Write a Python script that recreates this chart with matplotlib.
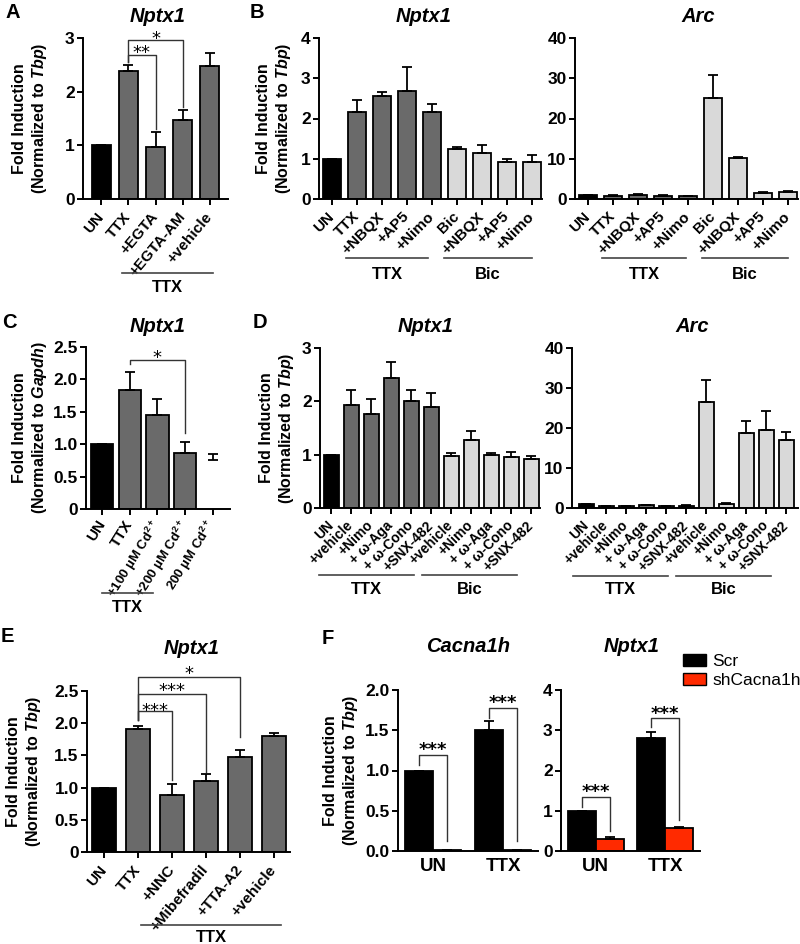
import matplotlib
matplotlib.use("Agg")
import matplotlib.pyplot as plt
from matplotlib.patches import Patch
import numpy as np

plt.rcParams['font.family'] = ['Liberation Sans', 'DejaVu Sans']
plt.rcParams['font.weight'] = 'bold'
plt.rcParams['mathtext.fontset'] = 'custom'
plt.rcParams['mathtext.rm'] = 'Liberation Sans:bold'
plt.rcParams['mathtext.it'] = 'Liberation Sans:italic:bold'
plt.rcParams['mathtext.bf'] = 'Liberation Sans:bold'

DARK = '#6a6a6a'
LIGHT = '#d9d9d9'
RED = '#ff2a00'

# ---- data ----
# A
a_labels = ["UN", "TTX", "+EGTA", "+EGTA-AM", "+vehicle"]
a_vals = [1.0, 2.38, 0.96, 1.48, 2.47]
a_err = [0.0, 0.11, 0.28, 0.18, 0.25]

# B
b_labels = ["UN", "TTX", "+NBQX", "+AP5", "+Nimo", "Bic", "+NBQX", "+AP5", "+Nimo"]
b_nptx1 = [1.0, 2.17, 2.56, 2.69, 2.17, 1.24, 1.15, 0.91, 0.91]
b_nptx1_err = [0.0, 0.29, 0.10, 0.59, 0.18, 0.04, 0.19, 0.08, 0.19]
b_arc = [1.0, 0.8, 1.1, 0.8, 0.7, 25.2, 10.1, 1.5, 1.7]
b_arc_err = [0.1, 0.1, 0.15, 0.1, 0.1, 5.6, 0.35, 0.3, 0.25]

# C
c_labels = ["UN", "TTX", "+100 µM Cd$^{2+}$", "+200 µM Cd$^{2+}$", "200 µM Cd$^{2+}$"]
c_vals = [1.0, 1.84, 1.45, 0.86, 0.76]
c_err = [0.0, 0.27, 0.25, 0.17, 0.09]

# D
d_labels = ["UN", "+vehicle", "+Nimo", "+ ω-Aga", "+ ω-Cono", "+SNX-482",
            "+vehicle", "+Nimo", "+ ω-Aga", "+ ω-Cono", "+SNX-482"]
d_nptx1 = [1.0, 1.94, 1.77, 2.44, 2.01, 1.89, 0.97, 1.28, 1.0, 0.96, 0.92]
d_nptx1_err = [0.0, 0.27, 0.28, 0.29, 0.21, 0.27, 0.07, 0.16, 0.04, 0.09, 0.05]
d_arc = [1.0, 0.5, 0.4, 0.7, 0.4, 0.6, 26.5, 1.0, 18.8, 19.4, 17.1]
d_arc_err = [0.0, 0.1, 0.1, 0.1, 0.1, 0.1, 5.4, 0.2, 2.9, 4.8, 2.0]

# E
e_labels = ["UN", "TTX", "+NNC", "+Mibefradil", "+TTA-A2", "+vehicle"]
e_vals = [1.0, 1.91, 0.89, 1.11, 1.48, 1.80]
e_err = [0.0, 0.05, 0.17, 0.10, 0.10, 0.05]

# F
f_groups = ["UN", "TTX"]
f_cacna_scr = [1.0, 1.50]
f_cacna_scr_err = [0.0, 0.11]
f_cacna_sh = [0.01, 0.01]
f_cacna_sh_err = [0.005, 0.005]
f_nptx_scr = [1.0, 2.81]
f_nptx_scr_err = [0.0, 0.15]
f_nptx_sh = [0.30, 0.56]
f_nptx_sh_err = [0.04, 0.04]

fig = plt.figure(figsize=(8, 9.44), dpi=100)


def rect(x0, x1, y0, y1):
    return [x0 / 800, 1 - y1 / 944, (x1 - x0) / 800, (y1 - y0) / 944]


def style(ax, ylim, yticks, yticklabels, ylab, labx):
    ax.spines['top'].set_visible(False)
    ax.spines['right'].set_visible(False)
    for s in ['left', 'bottom']:
        ax.spines[s].set_linewidth(1.4)
    ax.set_ylim(*ylim)
    ax.set_yticks(yticks)
    ax.set_yticklabels(yticklabels)
    ax.tick_params(direction='out', length=4, width=1.4)
    ax.tick_params(axis='y', labelsize=12.5, pad=2)
    if ylab:
        ax.set_ylabel(ylab, fontsize=11.5, fontweight='bold', linespacing=1.2)
        ax.yaxis.set_label_coords(labx, 0.5)


def bars(ax, vals, errs, colors, width, labels, rot, lsize, pad=7):
    x = np.arange(len(vals))
    ax.bar(x, vals, width, color=colors, edgecolor='black', linewidth=1.3, zorder=2)
    ax.errorbar(x, vals, yerr=[np.zeros(len(vals)), errs], fmt='none', ecolor='black',
                elinewidth=1.3, capsize=3.5, capthick=1.3, zorder=3)
    ax.set_xticks(x)
    ax.set_xticklabels(labels, rotation=rot, ha='right', va='center',
                       rotation_mode='anchor', fontsize=lsize)
    ax.tick_params(axis='x', pad=pad)


def group(ax, x0, x1, yline, ytext, text):
    tr = ax.get_xaxis_transform()
    ax.plot([x0, x1], [yline, yline], color='#444444', lw=1.2, transform=tr, clip_on=False)
    ax.text((x0 + x1) / 2, ytext, text, transform=tr, ha='center', va='center',
            fontsize=12, fontweight='bold')


def bracket(ax, x1, x2, y, e1, e2, stars, ys, weight='normal'):
    ax.plot([x1, x1, x2, x2], [e1, y, y, e2], color='#333333', lw=1.0, clip_on=False)
    ax.annotate(stars, xy=((x1 + x2) / 2, ys), xytext=(0, -7.5), textcoords='offset points',
                ha='center', va='baseline', fontsize=13, fontweight=weight,
                family='DejaVu Sans', annotation_clip=False)


ylab_tbp = "Fold Induction\n(Normalized to $\\it{Tbp}$)"

# ---- A ----
ax = fig.add_axes(rect(83, 228, 38, 199))
bars(ax, a_vals, a_err, ['black'] + [DARK] * 4, 0.7, a_labels, 50, 11)
ax.set_xlim(-0.67, 4.67)
style(ax, (0, 3), [0, 1, 2, 3], ['0', '1', '2', '3'], ylab_tbp, -0.234)
bracket(ax, 1, 2, 2.68, 2.55, 1.3, '**', 2.83)
bracket(ax, 1, 3, 2.96, 2.55, 1.72, '*', 3.08)
group(ax, 0.78, 4.1, -0.46, -0.547, 'TTX')

# ---- B ----
b_colors = ['black'] + [DARK] * 4 + [LIGHT] * 4
ax = fig.add_axes(rect(319, 542, 38, 199))
bars(ax, b_nptx1, b_nptx1_err, b_colors, 0.7, b_labels, 45, 11)
ax.set_xlim(-0.52, 8.4)
style(ax, (0, 4), [0, 1, 2, 3, 4], ['0', '1', '2', '3', '4'], ylab_tbp, -0.117)
group(ax, 0.56, 3.84, -0.366, -0.466, 'TTX')
group(ax, 4.48, 8.0, -0.366, -0.466, 'Bic')

ax = fig.add_axes(rect(575, 798, 38, 199))
bars(ax, b_arc, b_arc_err, b_colors, 0.7, b_labels, 45, 11)
ax.set_xlim(-0.52, 8.4)
style(ax, (0, 40), [0, 10, 20, 30, 40], ['0', '10', '20', '30', '40'], None, 0)
group(ax, 0.56, 3.92, -0.366, -0.466, 'TTX')
group(ax, 4.56, 8.0, -0.366, -0.466, 'Bic')

# ---- C ----
ax = fig.add_axes(rect(86, 230, 347, 509))
bars(ax, c_vals, c_err, ['black'] + [DARK] * 3 + ['none'], 0.8, c_labels, 58, 11, pad=5)
ax.patches[-1].set_edgecolor('none')
ax.set_xlim(-0.58, 4.62)
style(ax, (0, 2.5), [0, 0.5, 1.0, 1.5, 2.0, 2.5], ['0', '0.5', '1.0', '1.5', '2.0', '2.5'],
      "Fold Induction\n(Normalized to $\\it{Gapdh}$)", -0.257)
for lab in ax.get_xticklabels()[2:]:
    lab.set_fontsize(9.5)
bracket(ax, 1, 3, 2.30, 2.23, 1.18, '*', 2.41)
group(ax, 0.0, 1.84, -0.52, -0.605, 'TTX')

# ---- D ----
d_colors = ['black'] + [DARK] * 5 + [LIGHT] * 5
ax = fig.add_axes(rect(320, 540, 348, 508))
bars(ax, d_nptx1, d_nptx1_err, d_colors, 0.75, d_labels, 45, 10)
ax.set_xlim(-0.55, 10.45)
style(ax, (0, 3), [0, 1, 2, 3], ['0', '1', '2', '3'], ylab_tbp, -0.11)
group(ax, -0.6, 4.15, -0.419, -0.51, 'TTX')
group(ax, 4.55, 9.3, -0.419, -0.51, 'Bic')

ax = fig.add_axes(rect(572, 798, 348, 508))
bars(ax, d_arc, d_arc_err, d_colors, 0.75, d_labels, 45, 10)
ax.set_xlim(-0.7, 10.6)
style(ax, (0, 40), [0, 10, 20, 30, 40], ['0', '10', '20', '30', '40'], None, 0)
group(ax, -0.65, 4.1, -0.425, -0.51, 'TTX')
group(ax, 4.5, 9.25, -0.425, -0.51, 'Bic')

# ---- E ----
ax = fig.add_axes(rect(87, 290, 691, 852))
bars(ax, e_vals, e_err, ['black'] + [DARK] * 5, 0.68, e_labels, 50, 11)
ax.set_xlim(-0.5, 5.47)
style(ax, (0, 2.5), [0, 0.5, 1.0, 1.5, 2.0, 2.5], ['0', '0.5', '1.0', '1.5', '2.0', '2.5'],
      ylab_tbp, -0.217)
bracket(ax, 1, 2, 2.19, 2.05, 1.12, '***', 2.28)
bracket(ax, 1, 3, 2.45, 2.05, 1.25, '***', 2.59)
bracket(ax, 1, 4, 2.71, 2.05, 1.78, '*', 2.85)
group(ax, 1.1, 5.2, -0.453, -0.534, 'TTX')


# ---- F ----
def fpanel(r, scr, scr_err, sh, sh_err, ylim, yticks, yticklabels, ylab):
    ax = fig.add_axes(r)
    x = np.arange(len(f_groups))
    w = 0.4
    ax.bar(x - w / 2, scr, w, color='black', edgecolor='black', linewidth=1.3, zorder=2)
    ax.bar(x + w / 2, sh, w, color=RED, edgecolor='black', linewidth=1.3, zorder=2)
    ax.errorbar(x - w / 2, scr, yerr=[np.zeros(2), scr_err], fmt='none', ecolor='black',
                elinewidth=1.3, capsize=3.5, capthick=1.3, zorder=3)
    ax.errorbar(x + w / 2, sh, yerr=[np.zeros(2), sh_err], fmt='none', ecolor='black',
                elinewidth=1.3, capsize=3.5, capthick=1.3, zorder=3)
    ax.set_xlim(-0.5, 1.5)
    ax.set_xticks(x)
    ax.set_xticklabels(f_groups)
    style(ax, ylim, yticks, yticklabels, ylab, -0.27)
    ax.tick_params(axis='x', length=0, pad=5, labelsize=13.5)
    return ax


ax = fpanel(rect(398, 538, 690, 851), f_cacna_scr, f_cacna_scr_err, f_cacna_sh, f_cacna_sh_err,
            (0, 2.0), [0, 0.5, 1.0, 1.5, 2.0], ['0.0', '0.5', '1.0', '1.5', '2.0'], ylab_tbp)
bracket(ax, -0.2, 0.2, 1.19, 1.07, 0.13, '***', 1.32, 'bold')
bracket(ax, 0.8, 1.2, 1.78, 1.65, 0.13, '***', 1.91, 'bold')

ax = fpanel(rect(561, 700, 690, 851), f_nptx_scr, f_nptx_scr_err, f_nptx_sh, f_nptx_sh_err,
            (0, 4), [0, 1, 2, 3, 4], ['0', '1', '2', '3', '4'], None)
bracket(ax, -0.2, 0.2, 1.34, 1.1, 0.5, '***', 1.59, 'bold')
bracket(ax, 0.8, 1.2, 3.31, 3.09, 0.76, '***', 3.54, 'bold')

fig.legend(handles=[Patch(facecolor='black', edgecolor='black', label='Scr'),
                    Patch(facecolor=RED, edgecolor='black', label='shCacna1h')],
           loc='upper left', bbox_to_anchor=(683 / 800, 1 - 654 / 944), frameon=False,
           prop={'size': 12.5, 'weight': 'normal'}, handlelength=1.3, handleheight=0.7,
           handletextpad=0.4, labelspacing=0.2, borderpad=0, borderaxespad=0)

# ---- titles and panel letters ----
titles = [("Nptx1", 158, 16), ("Nptx1", 424, 16), ("Arc", 698, 16),
          ("Nptx1", 158, 327), ("Nptx1", 426, 327), ("Arc", 692, 327),
          ("Nptx1", 192, 648), ("Cacna1h", 468, 647), ("Nptx1", 632, 647)]
for t, x, y in titles:
    fig.text(x / 800, 1 - y / 944, t, ha='center', va='center', fontsize=14.5,
             fontweight='bold', style='italic')

letters = [("A", 6, 12), ("B", 250, 12), ("C", 2, 322), ("D", 253, 322),
           ("E", 1, 637), ("F", 322, 638)]
for t, x, y in letters:
    fig.text(x / 800, 1 - y / 944, t, ha='left', va='center', fontsize=14.5, fontweight='bold')

fig.savefig("out.png", dpi=100)
